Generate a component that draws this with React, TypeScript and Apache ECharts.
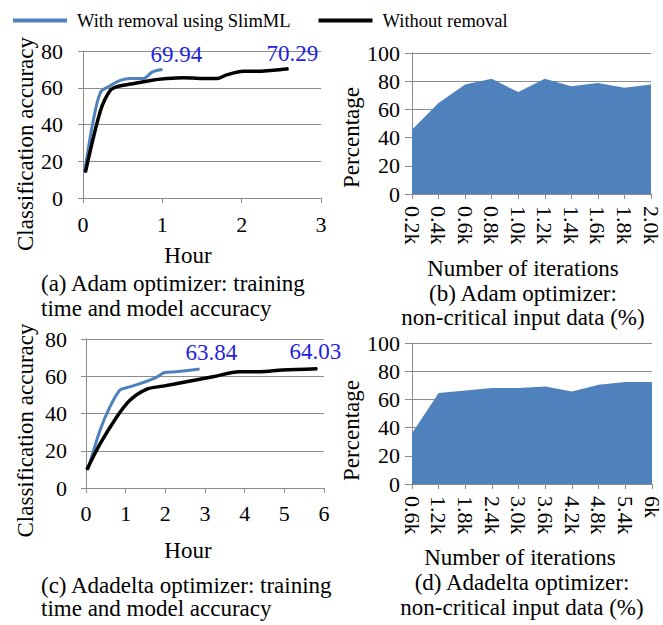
import React, { useEffect, useRef } from "react";
import * as echarts from "echarts";

// Adam optimizer: accuracy over training time
const adamSlimHours = [0.02, 0.12, 0.22, 0.34, 0.47, 0.6, 0.76, 0.87, 0.93, 1.0];
const adamSlimAcc = [14, 40, 57.5, 61, 64, 65, 65, 68.5, 69.4, 69.94];
const adamBaseHours = [0.03, 0.22, 0.34, 0.43, 0.6, 0.85, 1.06, 1.27, 1.5, 1.69, 1.81, 2.02, 2.23, 2.4, 2.59];
const adamBaseAcc = [14, 47.5, 58.4, 60.6, 62, 64, 65, 65.5, 65, 65, 67, 69, 69, 69.5, 70.29];

// Adadelta optimizer: accuracy over training time
const adadeltaSlimHours = [0.05, 0.35, 0.6, 0.85, 1.02, 1.36, 1.77, 1.98, 2.28, 2.86];
const adadeltaSlimAcc = [10, 30.8, 43.4, 52.5, 53.8, 56, 59.4, 62, 62.4, 63.84];
const adadeltaBaseHours = [0.02, 0.35, 0.77, 1.1, 1.52, 1.94, 2.53, 3.2, 3.87, 4.37, 4.95, 5.83];
const adadeltaBaseAcc = [9.8, 23.5, 38, 47, 53, 54.7, 57, 59.7, 62.4, 62.4, 63.3, 64.03];

// Non-critical input data share per iteration count
const adamIterations = ["0.2k", "0.4k", "0.6k", "0.8k", "1.0k", "1.2k", "1.4k", "1.6k", "1.8k", "2.0k"];
const adamNonCritical = [45.5, 64.5, 77.7, 81.8, 72.3, 81.8, 76.5, 78.7, 75.4, 77.7];
const adadeltaIterations = ["0.6k", "1.2k", "1.8k", "2.4k", "3.0k", "3.6k", "4.2k", "4.8k", "5.4k", "6k"];
const adadeltaNonCritical = [36, 64.5, 66.4, 68, 68, 69.2, 65.6, 70.4, 72.3, 72.3];

const SLIM = "With removal using SlimML";
const BASE = "Without removal";

const FONT = "'Liberation Serif', 'Times New Roman', 'DejaVu Serif', serif";
const GRAY = "#8c8c8c";
const BLUE = "#4f81bd";
const LABEL_BLUE = "#2323dc";

const zip = (xs: number[], ys: number[]) => xs.map((x, i) => [x, ys[i]]);

// Attach a value label to the final point of a series
const withEndLabel = (pts: number[][], offset: number[]) =>
  pts.map((p, i) =>
    i === pts.length - 1
      ? {
          value: p,
          label: {
            show: true,
            position: "top",
            offset,
            formatter: String(p[1]),
            color: LABEL_BLUE,
            fontFamily: FONT,
            fontSize: 23,
          },
        }
      : { value: p }
  );

const tickText = { color: "#000", fontFamily: FONT, fontSize: 22 };
const nameText = { color: "#000", fontFamily: FONT, fontSize: 23 };

const hourAxis = (gridIndex: number, max: number, nameShift: number, nameGap: number, margin: number) => ({
  type: "value",
  gridIndex,
  min: 0,
  max,
  interval: 1,
  name: "Hour",
  nameLocation: "middle",
  nameGap,
  nameTextStyle: { ...nameText, padding: [0, nameShift, 0, 0] },
  axisLine: { show: true, lineStyle: { color: GRAY, width: 1 } },
  axisTick: { show: true, length: 5, lineStyle: { color: GRAY } },
  axisLabel: { ...tickText, margin },
  splitLine: { show: false },
});

const accAxis = (gridIndex: number, nameShift: number, nameGap: number, margin: number) => ({
  type: "value",
  gridIndex,
  min: 0,
  max: 80,
  interval: 20,
  name: "Classification accuracy",
  nameLocation: "middle",
  nameGap,
  nameTextStyle: { ...nameText, padding: [0, nameShift, 0, 0] },
  axisLine: { show: true, lineStyle: { color: GRAY, width: 1 } },
  axisTick: { show: true, length: 5, lineStyle: { color: GRAY } },
  axisLabel: { ...tickText, margin },
  splitLine: { show: true, lineStyle: { color: GRAY, width: 1 } },
});

const iterAxis = (gridIndex: number, data: string[], nameShift: number, nameGap: number) => ({
  type: "category",
  gridIndex,
  data,
  boundaryGap: false,
  name: "Number of iterations",
  nameLocation: "middle",
  nameGap,
  nameTextStyle: { ...nameText, padding: [0, nameShift, 0, 0] },
  axisLine: { show: true, lineStyle: { color: GRAY, width: 1 } },
  axisTick: { show: true, length: 5, alignWithLabel: true, lineStyle: { color: GRAY } },
  axisLabel: { ...tickText, rotate: -90, margin: 12, interval: 0 },
  splitLine: { show: false },
});

const pctAxis = (gridIndex: number, nameShift: number) => ({
  type: "value",
  gridIndex,
  min: 0,
  max: 100,
  interval: 20,
  name: "Percentage",
  nameLocation: "middle",
  nameGap: 47,
  nameTextStyle: { ...nameText, padding: [0, nameShift, 0, 0] },
  axisLine: { show: true, lineStyle: { color: GRAY, width: 1 } },
  axisTick: { show: true, length: 7, lineStyle: { color: GRAY } },
  axisLabel: { ...tickText, margin: 12 },
  splitLine: { show: true, lineStyle: { color: GRAY, width: 1 } },
});

const accLine = (name: string, idx: number, pts: any[], color: string, width: number) => ({
  name,
  type: "line",
  xAxisIndex: idx,
  yAxisIndex: idx,
  data: pts,
  smooth: 0.3,
  showSymbol: true,
  symbol: "circle",
  symbolSize: 1,
  lineStyle: { color, width },
  itemStyle: { color },
  z: name === SLIM ? 3 : 4,
});

const areaSeries = (idx: number, values: number[]) => ({
  name: "Non-critical input data",
  type: "line",
  xAxisIndex: idx,
  yAxisIndex: idx,
  data: values,
  symbol: "none",
  lineStyle: { width: 0 },
  areaStyle: { color: BLUE, opacity: 1 },
  itemStyle: { color: BLUE },
});

const caption = (x: number, y: number, text: string, align: string) => ({
  type: "text",
  x,
  y,
  style: {
    text,
    fill: "#000",
    fontFamily: FONT,
    fontSize: 23,
    textAlign: align,
    textVerticalAlign: "middle",
  },
});

export default function App() {
  const ref = useRef<HTMLDivElement>(null);

  useEffect(() => {
    if (!ref.current) return;
    const chart = echarts.init(ref.current, null, { renderer: "svg" });
    chart.setOption({
      animation: false,
      backgroundColor: "#fff",
      textStyle: { fontFamily: FONT },
      legend: {
        data: [SLIM, BASE],
        left: 8,
        top: 6,
        icon: "rect",
        itemWidth: 54,
        itemHeight: 4,
        itemGap: 28,
        textStyle: { color: "#000", fontFamily: FONT, fontSize: 18.5, padding: [0, 0, 0, 5] },
      },
      grid: [
        { left: 83, top: 51, width: 238, height: 147, containLabel: false, outerBoundsMode: "none" },
        { left: 412, top: 53, width: 239, height: 141, containLabel: false, outerBoundsMode: "none" },
        { left: 86, top: 339, width: 238, height: 149, containLabel: false, outerBoundsMode: "none" },
        { left: 412, top: 343, width: 240, height: 141, containLabel: false, outerBoundsMode: "none" },
      ],
      xAxis: [
        hourAxis(0, 3, 28, 46, 15),
        iterAxis(1, adamIterations, 17, 63),
        hourAxis(2, 6, 34, 51, 14),
        iterAxis(3, adadeltaIterations, 24, 62),
      ],
      yAxis: [accAxis(0, 39, 45, 20), pctAxis(1, 28), accAxis(2, 34, 49, 19), pctAxis(3, 34)],
      series: [
        accLine(SLIM, 0, withEndLabel(zip(adamSlimHours, adamSlimAcc), [14, 2]), BLUE, 3),
        accLine(BASE, 0, withEndLabel(zip(adamBaseHours, adamBaseAcc), [4, 2]), "#000", 3.5),
        areaSeries(1, adamNonCritical),
        accLine(SLIM, 2, withEndLabel(zip(adadeltaSlimHours, adadeltaSlimAcc), [12, 0]), BLUE, 3),
        accLine(BASE, 2, withEndLabel(zip(adadeltaBaseHours, adadeltaBaseAcc), [-2, 0]), "#000", 3.5),
        areaSeries(3, adadeltaNonCritical),
      ],
      graphic: [
        caption(41, 283, "(a) Adam optimizer: training", "left"),
        caption(41, 308, "time and model accuracy", "left"),
        caption(523, 293, "(b) Adam optimizer:", "center"),
        caption(523, 317, "non-critical input data (%)", "center"),
        caption(41, 585, "(c) Adadelta optimizer: training", "left"),
        caption(41, 608, "time and model accuracy", "left"),
        caption(522, 582, "(d) Adadelta optimizer:", "center"),
        caption(522, 607, "non-critical input data (%)", "center"),
      ],
    });
    return () => chart.dispose();
  }, []);

  return (
    <div
      ref={ref}
      style={{ position: "fixed", left: 0, top: 0, width: 663, height: 625 }}
    />
  );
}
